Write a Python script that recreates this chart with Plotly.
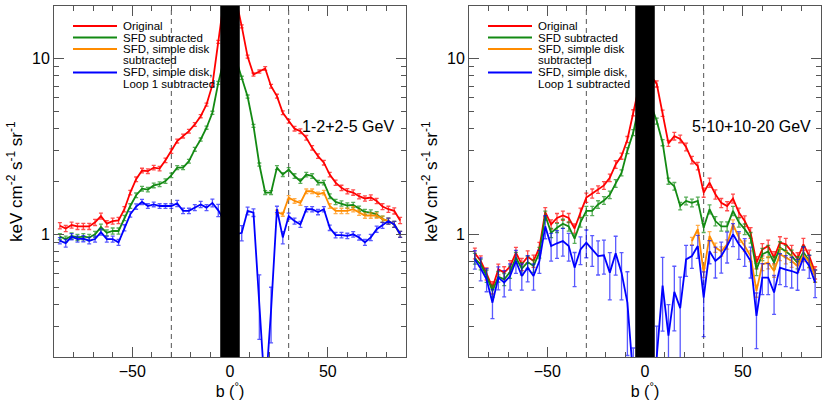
import plotly.graph_objects as go

# latitude bins (deg)
b = list(range(-87, 88, 3))

# 1-2+2-5 GeV panel
lo_red = [1.12, 1.08, 1.13, 1.11, 1.11, 1.11, 1.17, 1.27, 1.15, 1.19,
          1.20, 1.39, 1.73, 2.06, 2.31, 2.29, 2.40, 2.37, 2.64, 2.98,
          3.40, 3.63, 3.87, 4.23, 4.71, 5.49, 7.10, 12.5, 22.0, 28.0,
          22.0, 15.3, 10.3, 8.14, 8.47, 8.81, 6.98, 6.13, 4.93, 4.41,
          4.00, 3.87, 3.55, 3.11, 2.79, 2.56, 2.19, 1.97, 1.84, 1.76,
          1.73, 1.65, 1.60, 1.62, 1.55, 1.44, 1.39, 1.36, 1.20]
lo_green = [0.97, 0.94, 0.98, 0.96, 0.97, 0.96, 1.00, 1.10, 1.02, 1.045,
            1.045, 1.24, 1.45, 1.67, 1.82, 1.80, 1.90, 1.93, 2.01, 2.17,
            2.40, 2.40, 2.61, 3.05, 3.47, 4.05, 4.93, 7.30, 10.0, 11.0,
            10.0, 7.80, 6.10, 4.15, 2.50, 1.73, 1.73, 2.40, 2.19, 2.34,
            2.15, 2.01, 2.19, 2.15, 1.97, 1.97, 1.65, 1.53, 1.50, 1.46,
            1.47, 1.40, 1.34, 1.33, 1.30, 1.22, 1.19, 1.14, 1.00]
lo_orange = [None] * 37 + [1.34, 1.30, 1.62, 1.55, 1.51, 1.76, 1.76, 1.69, 1.73, 1.45,
                           1.36, 1.36, 1.36, 1.39, 1.33, 1.28, 1.28, 1.28, 1.22, 1.19,
                           1.14, 1.00]
lo_blue = [0.92, 0.89, 0.97, 0.94, 0.945, 0.92, 0.94, 1.03, 0.94, 0.94,
           0.90, 1.09, 1.30, 1.44, 1.53, 1.45, 1.48, 1.45, 1.45, 1.45,
           1.50, 1.36, 1.36, 1.42, 1.48, 1.42, 1.51, 1.37, 1.20, 1.00,
           1.00, 1.02, 1.36, 1.33, 0.42, 0.12, 0.37, 1.39, 0.96, 1.27,
           1.19, 1.14, 1.39, 1.39, 1.34, 1.39, 1.09, 0.99, 0.99, 0.98,
           1.00, 0.96, 0.90, 0.96, 1.07, 1.125, 1.19, 1.14, 1.00]
# relative errors
lo_err_main = [0.04, 0.04, 0.04, 0.04, 0.04, 0.04, 0.04, 0.04, 0.04, 0.04,
               0.04, 0.035, 0.03, 0.03, 0.03, 0.03, 0.03, 0.03, 0.03, 0.03,
               0.025, 0.025, 0.025, 0.025, 0.02, 0.02, 0.02, 0.02, 0.02, 0.02,
               0.02, 0.02, 0.02, 0.02, 0.02, 0.025, 0.025, 0.025, 0.025, 0.025,
               0.03, 0.03, 0.03, 0.03, 0.03, 0.03, 0.03, 0.035, 0.035, 0.035,
               0.035, 0.035, 0.035, 0.035, 0.035, 0.04, 0.04, 0.04, 0.04]
lo_err_blue = [0.04, 0.05, 0.04, 0.04, 0.04, 0.04, 0.04, 0.04, 0.04, 0.04,
               0.04, 0.04, 0.035, 0.035, 0.035, 0.03, 0.03, 0.03, 0.03, 0.03,
               0.04, 0.035, 0.035, 0.04, 0.04, 0.04, 0.05, 0.08, 0.1, 0.1,
               0.1, 0.1, 0.05, 0.05, 0.4, 0.5, 0.35, 0.04, 0.08, 0.04,
               0.04, 0.04, 0.035, 0.035, 0.035, 0.035, 0.035, 0.035, 0.035, 0.035,
               0.035, 0.035, 0.04, 0.04, 0.04, 0.04, 0.04, 0.04, 0.04]

# 5-10+10-20 GeV panel
hi_red = [0.78, 0.705, 0.597, 0.497, 0.632, 0.605, 0.655, 0.787, 0.675, 0.746,
          0.705, 0.84, 1.34, 1.14, 1.24, 1.28, 1.24, 1.08, 1.33, 1.62,
          1.71, 1.80, 1.90, 2.10, 2.50, 2.79, 3.47, 4.93, 7.0, 8.0,
          8.0, 7.2, 4.9, 3.3, 3.63, 3.50, 3.15, 2.65, 2.45, 1.73,
          1.97, 1.69, 1.51, 1.45, 1.60, 1.33, 1.19, 1.02, 0.69, 0.82,
          0.858, 0.737, 0.897, 0.877, 0.80, 0.727, 0.877, 0.752, 0.605]
hi_green = [0.727, 0.675, 0.579, 0.476, 0.574, 0.554, 0.61, 0.737, 0.638, 0.695,
            0.66, 0.787, 1.28, 1.02, 1.09, 1.15, 1.11, 0.945, 1.17, 1.36,
            1.36, 1.48, 1.56, 1.68, 1.95, 2.24, 3.0, 3.8, 5.5, 6.0,
            5.5, 4.42, 3.33, 2.01, 1.88, 1.45, 1.55, 1.51, 1.55, 1.09,
            1.39, 1.19, 1.11, 1.11, 1.36, 1.17, 1.07, 0.957, 0.632, 0.77,
            0.80, 0.69, 0.84, 0.80, 0.752, 0.69, 0.79, 0.705, 0.579]
hi_orange = [None] * 37 + [0.916, 1.07, 0.605, 0.978, 0.84, 0.80, 0.877, 1.14, 0.957, 0.858,
                           0.752, 0.476, 0.675, 0.69, 0.618, 0.77, 0.737, 0.705, 0.66, 0.76,
                           0.70, 0.58]
hi_blue = [0.72, 0.638, 0.554, 0.408, 0.567, 0.531, 0.579, 0.705, 0.579, 0.646,
           0.579, 0.705, 1.11, 0.858, 0.889, 0.916, 0.858, 0.646, 0.82, 0.897,
           0.82, 0.752, 0.76, 0.605, 0.78, 0.605, 0.408, 0.15, 0.15, 0.15,
           0.15, 0.20, 0.51, 0.265, 0.47, 0.38, 0.72, 0.752, 0.858, 0.436,
           0.80, 0.705, 0.752, 0.858, 1.00, 0.877, 0.80, 0.705, 0.343, 0.567,
           0.567, 0.466, 0.646, 0.63, 0.618, 0.60, 0.737, 0.66, 0.531]
hi_err_main = [0.07, 0.07, 0.08, 0.08, 0.07, 0.08, 0.08, 0.07, 0.08, 0.08,
               0.08, 0.07, 0.06, 0.06, 0.06, 0.06, 0.06, 0.06, 0.06, 0.06,
               0.06, 0.05, 0.05, 0.05, 0.05, 0.04, 0.04, 0.04, 0.03, 0.03,
               0.03, 0.04, 0.04, 0.04, 0.05, 0.05, 0.05, 0.05, 0.05, 0.06,
               0.06, 0.06, 0.06, 0.06, 0.06, 0.06, 0.07, 0.07, 0.08, 0.08,
               0.08, 0.08, 0.08, 0.08, 0.08, 0.08, 0.08, 0.08, 0.08]
hi_err_blue = [0.12, 0.15, 0.15, 0.19, 0.15, 0.17, 0.17, 0.15, 0.17, 0.17,
               0.17, 0.15, 0.15, 0.18, 0.18, 0.18, 0.18, 0.22, 0.18, 0.18,
               0.2, 0.22, 0.22, 0.3, 0.25, 0.3, 0.5, 0.5, 0.5, 0.5,
               0.5, 0.5, 0.45, 0.5, 0.4, 0.5, 0.2, 0.15, 0.15, 0.4,
               0.15, 0.2, 0.2, 0.2, 0.15, 0.18, 0.18, 0.2, 0.35, 0.2,
               0.2, 0.25, 0.2, 0.2, 0.2, 0.2, 0.15, 0.15, 0.18]

labels = ["Original", "SFD subtracted", "SFD, simple disk<br>subtracted",
          "SFD, simple disk,<br>Loop 1 subtracted"]
colors = ["#ff0000", "#138a13", "#ff8c00", "#0000ff"]
err_colors = ["rgba(255,0,0,0.7)", "rgba(19,138,19,0.7)",
              "rgba(255,140,0,0.7)", "rgba(0,0,255,0.65)"]
panel_titles = ["1-2+2-5 GeV", "5-10+10-20 GeV"]
ytitle = "keV cm<sup>-2</sup> s<sup>-1</sup> sr<sup>-1</sup>"

panels = [
    ([lo_red, lo_green, lo_orange, lo_blue],
     [lo_err_main, lo_err_main, lo_err_main, lo_err_blue]),
    ([hi_red, hi_green, hi_orange, hi_blue],
     [hi_err_main, hi_err_main, hi_err_main, hi_err_blue]),
]

FONT = "Liberation Sans, Arial, sans-serif"
W, H = 830, 415
domains = [[54 / W, 406 / W], [469 / W, 821 / W]]
ydom = [58 / H, 409 / H]

fig = go.Figure()
shapes = []
annotations = []

for p, (series, errs) in enumerate(panels):
    xa = "x" if p == 0 else "x2"
    ya = "y" if p == 0 else "y2"
    for vals, rel, col, ecol in zip(series, errs, colors, err_colors):
        err = [None if v is None else v * r for v, r in zip(vals, rel)]
        fig.add_trace(go.Scatter(
            x=b, y=vals, mode="lines", xaxis=xa, yaxis=ya,
            line=dict(color=col, width=1.8),
            error_y=dict(type="data", array=err, color=ecol, thickness=1.3, width=2),
            showlegend=False, hoverinfo="skip"
        ))

    # galactic plane mask and |b|=30 markers
    shapes.append(dict(type="rect", xref=xa, yref=ya + " domain", x0=-5, x1=5, y0=0, y1=1,
                       fillcolor="black", line=dict(width=0), layer="above"))
    for xv in (-30, 30):
        shapes.append(dict(type="line", xref=xa, yref=ya + " domain", x0=xv, x1=xv, y0=0, y1=1,
                           line=dict(color="#555", width=1, dash="5px,4px"), layer="below"))

    # energy band label
    annotations.append(dict(xref=xa, yref=ya, x=85 if p == 0 else 86, y=0.615,
                            text=panel_titles[p], showarrow=False, xanchor="right",
                            font=dict(size=16, color="black", family=FONT)))

    # y axis title
    x0 = domains[p][0] * W
    annotations.append(dict(xref="paper", yref="paper", x=(x0 - 39) / W, y=1 - 182 / H,
                            text=ytitle, textangle=-90, showarrow=False,
                            xanchor="center", yanchor="middle",
                            font=dict(size=17, color="black", family=FONT)))

    # hand-drawn legend
    rows = [26, 37.5, 49, 72.5]
    for (lab, col, ry) in zip(labels, colors, rows):
        shapes.append(dict(type="line", xref="paper", yref="paper",
                           x0=(x0 + 19) / W, x1=(x0 + 63) / W,
                           y0=1 - ry / H, y1=1 - ry / H,
                           line=dict(color=col, width=2)))
        for k, part in enumerate(lab.split("<br>")):
            annotations.append(dict(xref="paper", yref="paper",
                                    x=(x0 + 68) / W, y=1 - (ry + 11.5 * k) / H,
                                    text=part, showarrow=False, xanchor="left",
                                    yanchor="middle", borderpad=0,
                                    font=dict(size=11.5, color="black", family=FONT)))

axis_common = dict(showline=True, linecolor="#555", linewidth=1, mirror="allticks",
                   ticks="inside", tickcolor="#555", showgrid=False, zeroline=False,
                   automargin=False,
                   tickfont=dict(size=16, color="black", family=FONT))

for p in range(2):
    xname = "xaxis" if p == 0 else "xaxis2"
    yname = "yaxis" if p == 0 else "yaxis2"
    fig.update_layout(**{
        xname: dict(axis_common, domain=domains[p], range=[-90, 90],
                    anchor="y" if p == 0 else "y2",
                    tickvals=[-50, 0, 50], ticklen=10,
                    minor=dict(dtick=10, tick0=0, ticklen=5, ticks="inside", tickcolor="#555"),
                    title=dict(text="b (<sup>°</sup>)", standoff=4,
                               font=dict(size=16, color="black", family=FONT))),
        yname: dict(axis_common, domain=ydom, type="log",
                    range=[-0.69897, 1.30103], anchor="x" if p == 0 else "x2",
                    tickvals=[1, 10], ticktext=["1", "10"], ticklen=10,
                    minor=dict(tickmode="array",
                               tickvals=[0.2, 0.3, 0.4, 0.5, 0.6, 0.7, 0.8, 0.9,
                                         2, 3, 4, 5, 6, 7, 8, 9, 20],
                               ticklen=5, ticks="inside", tickcolor="#555")),
    })

fig.update_layout(
    width=W, height=H,
    margin=dict(l=0, r=0, t=0, b=0),
    paper_bgcolor="white", plot_bgcolor="white",
    shapes=shapes, annotations=annotations,
    font=dict(family=FONT, color="black"),
)

fig.write_html("out.html", config={"displayModeBar": False},
               post_script="document.body.style.margin='0px';")
